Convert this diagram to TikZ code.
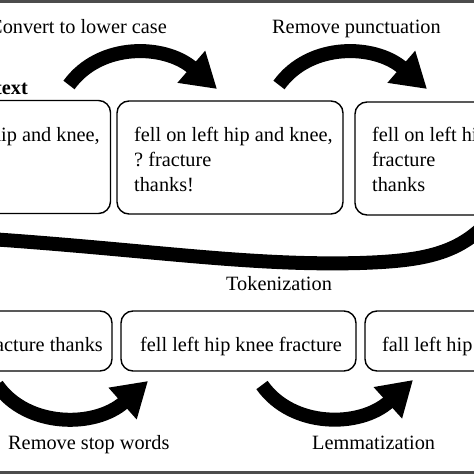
\documentclass[tikz,border=0pt]{standalone}
\usepackage{fontspec}
\setmainfont{Liberation Serif}
\usetikzlibrary{arrows.meta}
\frenchspacing
\begin{document}
\begin{tikzpicture}[x=1pt,y=-1pt,
  box/.style={draw,line width=1.4pt,rounded corners=12pt,rectangle,inner sep=0pt},
  txt/.style={anchor=base west,inner sep=0pt,font=\fontsize{20.3}{25}\selectfont},
  txte/.style={anchor=base east,inner sep=0pt,font=\fontsize{20.3}{25}\selectfont},
  bigarrow/.style={line width=14pt,-{Triangle[length=34pt,width=40pt]}},
  band/.style={line width=14pt},
  frame/.style={fill=black!70,draw=none}]
\useasboundingbox (0,0) rectangle (474,474);
\clip (0,0) rectangle (474,474);
\fill[white] (0,0) rectangle (474,474);
\fill[frame] (0,0) rectangle (474,2.5);
\fill[frame] (0,470.5) rectangle (474,474);
% top row boxes
\node[box,minimum width=226pt,minimum height=113pt] (b1) at (-2.5,157) {};
\node[box,minimum width=226pt,minimum height=113pt] (b2) at (230,157.5) {};
\node[box,minimum width=226pt,minimum height=113pt] (b3) at (468,158.5) {};
% bottom row boxes
\node[box,minimum width=235pt,minimum height=60pt] (c1) at (-5.5,341) {};
\node[box,minimum width=235pt,minimum height=60pt] (c2) at (238.5,341) {};
\node[box,minimum width=235pt,minimum height=60pt] (c3) at (482.5,341) {};
% texts
\node[txte,font=\fontsize{20.3}{25}\selectfont\bfseries] (raw) at (28,94) {text};
\node[txte] (t1a) at (100,141) {hip and knee,};
\node[txt] (t2a) at (134,141) {fell on left hip and knee,};
\node[txt] (t2b) at (134,166) {? fracture};
\node[txt] (t2c) at (134,191) {thanks!};
\node[txt] (t3a) at (372,141) {fell on left hip};
\node[txt] (t3b) at (372,166) {fracture};
\node[txt] (t3c) at (372,191) {thanks};
\node[txte] (u1) at (103,351) {fracture thanks};
\node[txt] (u2) at (140,351) {fell left hip knee fracture};
\node[txt] (u3) at (382,351) {fall left hip};
% labels
\node[txte] (l1) at (167,33) {Convert to lower case};
\node[txt] (l2) at (272,33) {Remove punctuation};
\node[txt] (l3) at (226,290) {Tokenization};
\node[txt] (l4) at (8,449) {Remove stop words};
\node[txt] (l5) at (312,449) {Lemmatization};
% arrow end points
\coordinate (a1s) at (69,85);
\coordinate (a1e) at (217,89);
\coordinate (a2s) at (279,85);
\coordinate (a2e) at (427,89);
\coordinate (a3s) at (-3,385);
\coordinate (a3e) at (148,381);
\coordinate (a4s) at (262,385);
\coordinate (a4e) at (413,380);
\coordinate (ts) at (-10,239);
\coordinate (tm) at (360,263);
\coordinate (te) at (485,225);
% arrows
\draw[bigarrow] (a1s) .. controls (100,42) and (165,44) .. (a1e);
\draw[bigarrow] (a2s) .. controls (310,42) and (375,44) .. (a2e);
\draw[bigarrow] (a3s) .. controls (27,428) and (95,428) .. (a3e);
\draw[bigarrow] (a4s) .. controls (292,428) and (360,428) .. (a4e);
\draw[band] (ts) .. controls (150,250) and (250,266) .. (tm) .. controls (420,261) and (455,255) .. (te);
\end{tikzpicture}
\end{document}
